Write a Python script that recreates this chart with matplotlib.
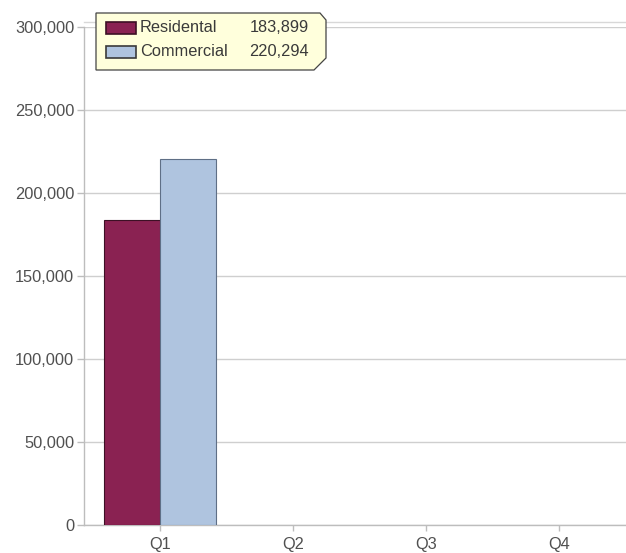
import matplotlib
matplotlib.use('Agg')
import matplotlib.pyplot as plt
from matplotlib.patches import Polygon, Rectangle

# data
quarters = ['Q1', 'Q2', 'Q3', 'Q4']
series_names = ['Residental', 'Commercial']
residential = [183899, 0, 0, 0]
commercial = [220294, 0, 0, 0]
y_ticks = [0, 50000, 100000, 150000, 200000, 250000, 300000]

RES_COLOR = '#8a2252'
COM_COLOR = '#afc4df'
GRID = '#cfcfcf'
FS = 11.8

plt.rcParams['font.family'] = ['Liberation Sans', 'DejaVu Sans']

W, H = 626, 553
fig = plt.figure(figsize=(W / 100, H / 100), dpi=100)
ax = fig.add_axes([84 / W, 1 - 525 / H, 1 - 84 / W, (525 - 27) / H])

bar_w = 0.42
x = range(len(quarters))
for i in x:
    if residential[i] > 0:
        ax.bar(i - bar_w / 2, residential[i], width=bar_w, color=RES_COLOR,
               edgecolor='#3d1025', linewidth=0.8, zorder=3)
    if commercial[i] > 0:
        ax.bar(i + bar_w / 2, commercial[i], width=bar_w, color=COM_COLOR,
               edgecolor='#5f6f86', linewidth=0.8, zorder=3)

ax.set_xlim(-0.57, 3.5)
ax.set_ylim(0, 300000)
ax.set_xticks(list(x))
ax.set_xticklabels(quarters)
ax.set_yticks(y_ticks)
ax.set_yticklabels([f'{v:,}' for v in y_ticks])

ax.yaxis.grid(True, color=GRID, linewidth=1, zorder=0)
ax.set_axisbelow(True)
for side in ['top', 'right']:
    ax.spines[side].set_visible(False)
for side in ['left', 'bottom']:
    ax.spines[side].set_color('#bdbdbd')
    ax.spines[side].set_linewidth(1)
ax.tick_params(axis='both', colors='#bdbdbd', labelcolor='#505050',
               labelsize=FS, length=5, width=1)
ax.tick_params(axis='x', length=4, pad=5)
ax.tick_params(axis='y', pad=2)

# faint double line at the top of the plot area
ax.plot([0, 1], [1.01, 1.01], transform=ax.transAxes, color='#d8d8d8',
        linewidth=1, clip_on=False)


# tooltip-style legend box, drawn in figure pixels
def px(xp, yp):
    return (xp / W, 1 - yp / H)


box = Polygon([px(96, 13), px(320, 13), px(326, 20), px(326, 58),
               px(314, 70), px(96, 70)], closed=True, transform=fig.transFigure,
              facecolor='#ffffdc', edgecolor='#444444', linewidth=0.9, zorder=10)
fig.patches.append(box)

rows = [(series_names[0], residential[0], RES_COLOR, '#3d1025', 28),
        (series_names[1], commercial[0], COM_COLOR, '#3a3a3a', 52)]
for name, val, fc, ec, yc in rows:
    sw = Rectangle(px(106, yc + 5.5), 30 / W, 11 / H, transform=fig.transFigure,
                   facecolor=fc, edgecolor=ec, linewidth=1.2, zorder=11)
    fig.patches.append(sw)
    fig.text(*px(140, yc), name, fontsize=FS, color='#3a3a3a', va='center', ha='left', zorder=12)
    fig.text(*px(309, yc), f'{val:,}', fontsize=FS, color='#3a3a3a', va='center', ha='right', zorder=12)

fig.savefig('out.png', dpi=100, facecolor='white')
